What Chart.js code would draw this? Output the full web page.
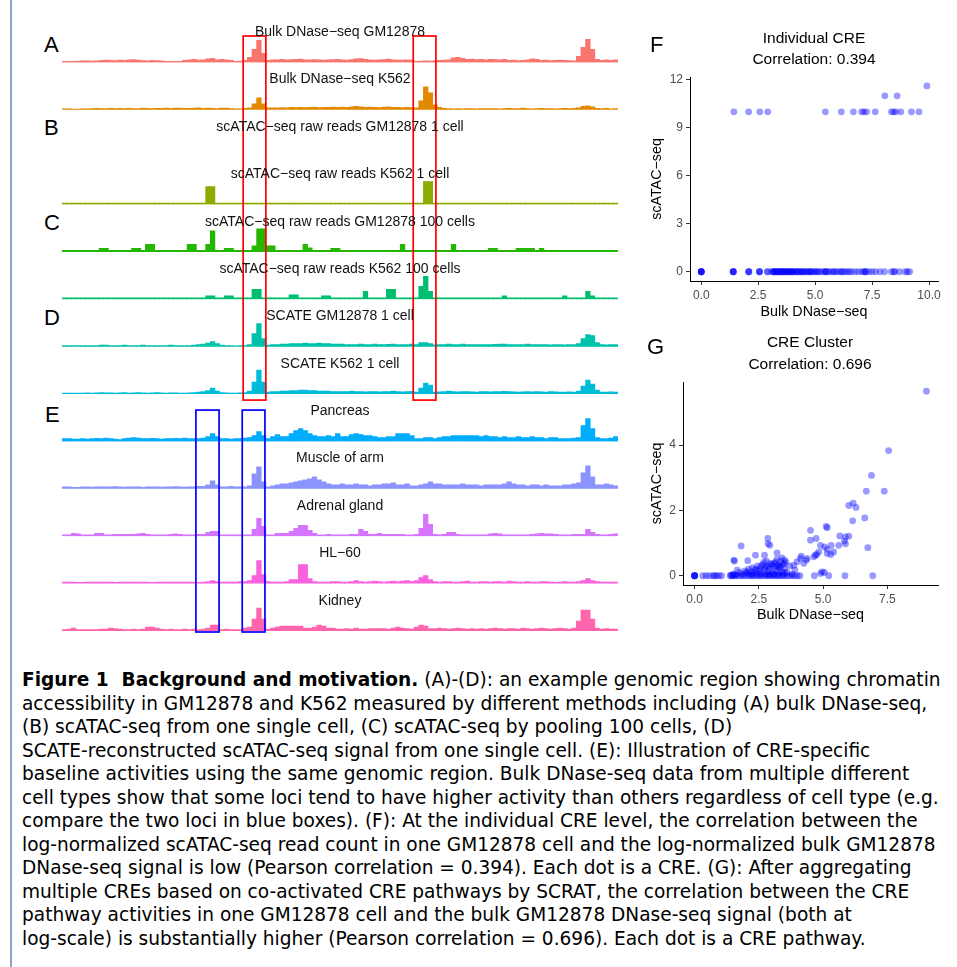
<!DOCTYPE html>
<html>
<head>
<meta charset="utf-8">
<script src="https://cdn.jsdelivr.net/npm/chart.js@4.4.0/dist/chart.umd.min.js"></script>
<style>
  html, body { margin: 0; padding: 0; background: #fff; overflow: hidden; }
  #fig { position: relative; width: 957px; height: 967px; font-family: "Liberation Sans", Arial, sans-serif; }
  #frame { position: absolute; left: 10px; top: 0; width: 1.5px; height: 967px; background: #8ea3c4; }
  canvas { position: absolute; }
  .letter { position: absolute; font-size: 22px; line-height: 1; transform: translateY(-50%); color: #000; }
  .tlabel { position: absolute; left: 62px; width: 556px; text-align: center; font-size: 14px; line-height: 1;
            transform: translateY(-50%); white-space: nowrap; color: #111; }
  .ptitle { position: absolute; width: 300px; text-align: center; font-size: 15.5px; line-height: 1;
            transform: translate(-50%, -50%); white-space: nowrap; color: #000; }
  #caption { position: absolute; left: 22px; top: 668px; font-family: "DejaVu Sans", sans-serif; font-size: 15.5px;
             line-height: 23.5px; color: #000; }
  #caption div { white-space: nowrap; }
</style>
</head>
<body>
<div id="fig">
  <div id="frame"></div>
  <canvas id="tracks" width="556" height="625" style="left:62px;top:15px"></canvas>
  <canvas id="scatterF" width="317" height="305" style="left:640px;top:20px"></canvas>
  <canvas id="scatterG" width="317" height="300" style="left:640px;top:325px"></canvas>

  <div class="letter" style="left:44px;top:45px">A</div>
  <div class="letter" style="left:44px;top:128px">B</div>
  <div class="letter" style="left:44px;top:223px">C</div>
  <div class="letter" style="left:44px;top:318px">D</div>
  <div class="letter" style="left:45px;top:415px">E</div>
  <div class="letter" style="left:650px;top:45px">F</div>
  <div class="letter" style="left:647px;top:347px">G</div>

  <div class="ptitle" style="left:814px;top:38px">Individual CRE</div>
  <div class="ptitle" style="left:814px;top:59px">Correlation: 0.394</div>
  <div class="ptitle" style="left:810px;top:342px">CRE Cluster</div>
  <div class="ptitle" style="left:810px;top:364px">Correlation: 0.696</div>

  <div id="caption">
    <div><span><b>Figure 1&nbsp; Background and motivation.</b> (A)-(D): an example genomic region showing chromatin</span></div>
    <div><span>accessibility in GM12878 and K562 measured by different methods including (A) bulk DNase-seq,</span></div>
    <div><span>(B) scATAC-seq from one single cell, (C) scATAC-seq by pooling 100 cells, (D)</span></div>
    <div><span>SCATE-reconstructed scATAC-seq signal from one single cell. (E): Illustration of CRE-specific</span></div>
    <div><span>baseline activities using the same genomic region. Bulk DNase-seq data from multiple different</span></div>
    <div><span>cell types show that some loci tend to have higher activity than others regardless of cell type (e.g.</span></div>
    <div><span>compare the two loci in blue boxes). (F): At the individual CRE level, the correlation between the</span></div>
    <div><span>log-normalized scATAC-seq read count in one GM12878 cell and the log-normalized bulk GM12878</span></div>
    <div><span>DNase-seq signal is low (Pearson correlation = 0.394). Each dot is a CRE. (G): After aggregating</span></div>
    <div><span>multiple CREs based on co-activated CRE pathways by SCRAT, the correlation between the CRE</span></div>
    <div><span>pathway activities in one GM12878 cell and the bulk GM12878 DNase-seq signal (both at</span></div>
    <div><span>log-scale) is substantially higher (Pearson correlation = 0.696). Each dot is a CRE pathway.</span></div>
  </div>
</div>

<script>
const FONT = '"Liberation Sans", Arial, sans-serif';

// signal per genomic bin (120 bins across the region), one array per track
const gm12878Bulk = [
  1, 1, 1, 1.2, 1.5, 1.5, 1.3, 1.6, 2, 2.2,
  2, 1.8, 2.4, 2, 2.5, 2.8, 2.2, 1.8, 1.5, 2,
  1.7, 1.5, 1, 1, 1, 1, 2, 2.5, 3, 2.2,
  2.5, 3.5, 4, 2.5, 3, 2.5, 2, 1, 1.2, 2,
  5, 13, 22, 9, 2, 2.5, 2.5, 3, 2.5, 2.8,
  3, 3.2, 2.5, 2.6, 2.8, 2.5, 2.4, 2.6, 2.8, 3,
  2.5, 2.4, 2.7, 3.5, 3.8, 3, 2.5, 2.4, 2.6, 2.8,
  3.2, 2.5, 2.4, 2.2, 2.5, 2.3, 1, 1.2, 1.5, 1.4,
  1.5, 2, 2.2, 2.5, 4.5, 5, 4, 3, 3.2, 2.8,
  3, 2.6, 3, 2.8, 2.6, 3, 2, 2.2, 1.8, 2,
  2.5, 3.5, 3, 2, 2.2, 1.8, 2, 2.4, 2, 1.8,
  1.6, 6, 15, 23, 13, 3, 2, 2.5, 2, 2.5
];
const k562Bulk = [
  1, 1, 0.8, 0.8, 1, 1, 1.2, 1.5, 1.2, 1.3,
  1.5, 1.2, 1.4, 1.2, 1.5, 1.3, 1.2, 1.6, 1.5, 1.2,
  1.4, 1.5, 1.8, 1.5, 1.6, 1.8, 1.5, 1.4, 1.6, 2,
  1.5, 1.8, 1.5, 1.3, 1.6, 1.8, 1.2, 1, 1, 1.5,
  2, 6, 12, 6, 2, 2, 2, 2.2, 2, 2.4,
  2.2, 2.5, 2.2, 2.4, 2.6, 2.3, 2.5, 2.4, 2.6, 2.4,
  2.8, 2.5, 3, 3.5, 3, 2.5, 2.6, 2.4, 2.2, 2.8,
  3, 2.5, 2.4, 2.2, 2.5, 2.3, 2, 9, 23, 17,
  5, 2.5, 1.5, 1.2, 1, 1.2, 1, 1.3, 1.2, 1,
  1.2, 1.1, 1.3, 1.2, 1, 1.2, 1.5, 1.2, 1.3, 1.6,
  1.2, 1, 1.2, 1.5, 1.3, 1.2, 1, 1.2, 1.5, 1.2,
  1.4, 2, 3.5, 4, 3, 1.5, 1.2, 1.5, 1, 1.2
];
const gm12878Cell = [
  0, 0, 0, 0, 0, 0, 0, 0, 0, 0,
  0, 0, 0, 0, 0, 0, 0, 0, 0, 0,
  0, 0, 0, 0, 0, 0, 0, 0, 0, 0,
  0, 0, 0, 0, 0, 0, 0, 0, 0, 0,
  0, 0, 0, 0, 0, 0, 0, 0, 0, 0,
  0, 0, 0, 0, 0, 0, 0, 0, 0, 0,
  0, 0, 0, 0, 0, 0, 0, 0, 0, 0,
  0, 0, 0, 0, 0, 0, 0, 0, 0, 0,
  0, 0, 0, 0, 0, 0, 0, 0, 0, 0,
  0, 0, 0, 0, 0, 0, 0, 0, 0, 0,
  0, 0, 0, 0, 0, 0, 0, 0, 0, 0,
  0, 0, 0, 0, 0, 0, 0, 0, 0, 0
];
const k562Cell = [
  1.5, 1.5, 1.5, 1.5, 1.5, 1.5, 1.5, 1.5, 1.5, 1.5,
  1.5, 1.5, 1.5, 1.5, 1.5, 1.5, 1.5, 1.5, 1.5, 1.5,
  1.5, 1.5, 1.5, 1.5, 1.5, 1.5, 1.5, 1.5, 1.5, 1.5,
  1.5, 18, 18, 1.5, 1.5, 1.5, 1.5, 1.5, 1.5, 1.5,
  1.5, 1.5, 1.5, 1.5, 1.5, 1.5, 1.5, 1.5, 1.5, 1.5,
  1.5, 1.5, 1.5, 1.5, 1.5, 1.5, 1.5, 1.5, 1.5, 1.5,
  1.5, 1.5, 1.5, 1.5, 1.5, 1.5, 1.5, 1.5, 1.5, 1.5,
  1.5, 1.5, 1.5, 1.5, 1.5, 1.5, 1.5, 1.5, 23, 23,
  1.5, 1.5, 1.5, 1.5, 1.5, 1.5, 1.5, 1.5, 1.5, 1.5,
  1.5, 1.5, 1.5, 1.5, 1.5, 1.5, 1.5, 1.5, 1.5, 1.5,
  1.5, 1.5, 1.5, 1.5, 1.5, 1.5, 1.5, 1.5, 1.5, 1.5,
  1.5, 1.5, 1.5, 1.5, 1.5, 1.5, 1.5, 1.5, 1.5, 1.5
];
const gm12878Pool = [
  1.5, 1.5, 1.5, 1.5, 1.5, 1.5, 1.5, 1.5, 3.5, 3.5,
  1.5, 1.5, 1.5, 1.5, 1.5, 3.5, 3.5, 1.5, 7.5, 7.5,
  1.5, 1.5, 1.5, 1.5, 1.5, 1.5, 1.5, 7.5, 7.5, 1.5,
  1.5, 7.5, 21, 1.5, 1.5, 3.5, 3.5, 1.5, 1.5, 1.5,
  1.5, 6, 23, 23, 6, 6, 1.5, 1.5, 1.5, 1.5,
  1.5, 1.5, 7.5, 4, 1.5, 1.5, 1.5, 1.5, 3.5, 3.5,
  1.5, 1.5, 1.5, 1.5, 1.5, 1.5, 1.5, 1.5, 1.5, 1.5,
  1.5, 1.5, 1.5, 7.5, 1.5, 1.5, 1.5, 1.5, 1.5, 1.5,
  1.5, 1.5, 1.5, 1.5, 7.5, 1.5, 1.5, 1.5, 1.5, 1.5,
  1.5, 1.5, 3.5, 3.5, 1.5, 1.5, 1.5, 1.5, 3.5, 3.5,
  3.5, 3.5, 1.5, 3.5, 1.5, 1.5, 1.5, 1.5, 1.5, 1.5,
  1.5, 1.5, 1.5, 1.5, 1.5, 1.5, 1.5, 1.5, 1.5, 1.5
];
const k562Pool = [
  1.5, 1.5, 1.5, 1.5, 1.5, 1.5, 1.5, 1.5, 1.5, 1.5,
  1.5, 1.5, 1.5, 1.5, 1.5, 1.5, 1.5, 1.5, 1.5, 1.5,
  1.5, 1.5, 1.5, 1.5, 1.5, 1.5, 1.5, 1.5, 1.5, 1.5,
  1.5, 3.5, 3.5, 1.5, 1.5, 3.5, 3.5, 1.5, 1.5, 1.5,
  1.5, 10, 10, 1.5, 1.5, 1.5, 1.5, 1.5, 1.5, 4.5,
  4.5, 1.5, 1.5, 1.5, 1.5, 1.5, 3.5, 3.5, 1.5, 1.5,
  1.5, 1.5, 1.5, 1.5, 1.5, 8, 1.5, 1.5, 1.5, 1.5,
  10, 10, 1.5, 1.5, 1.5, 1.5, 1.5, 13, 23, 8,
  1.5, 1.5, 1.5, 1.5, 1.5, 1.5, 1.5, 1.5, 1.5, 1.5,
  1.5, 1.5, 1.5, 1.5, 1.5, 3.5, 1.5, 1.5, 1.5, 1.5,
  1.5, 1.5, 1.5, 1.5, 1.5, 1.5, 1.5, 1.5, 3.5, 1.5,
  1.5, 1.5, 1.5, 8, 3.5, 1.5, 1.5, 1.5, 1.5, 1.5
];
const scateGm = [
  1, 1, 1, 1, 1, 1, 1, 1.2, 1.5, 1.5,
  1.2, 1.2, 1, 1.5, 1.2, 1, 1.2, 1.5, 1.2, 1,
  1.2, 1, 1.2, 1.5, 1, 1.2, 1, 1.2, 1.5, 2,
  2.5, 3.5, 5, 3, 1.5, 1.2, 1, 0.8, 1, 1.2,
  2, 13, 23, 8, 1.5, 2, 2, 2.5, 2.5, 3,
  3, 3, 3.5, 3, 3, 3.5, 3, 3, 2.5, 2.5,
  2.5, 2.2, 2, 2.2, 2.5, 2.2, 2, 2.5, 2.2, 2,
  2.3, 2.5, 2.2, 2, 2.2, 2.5, 2, 4, 4, 3,
  1.8, 2, 2.2, 2.5, 2.2, 2, 2.5, 2.2, 2, 2,
  2, 2.2, 2, 2.3, 2.5, 2.5, 2.2, 2, 2, 2.2,
  2.5, 2, 2, 2.2, 2, 1.8, 2, 2, 1.8, 2,
  2, 3, 8, 12, 11, 4, 2, 1.8, 2, 2
];
const scateK = [
  1, 1, 1, 1, 1, 1.2, 1, 1.2, 1.5, 1.2,
  1.2, 1, 1.2, 1.5, 1, 1.2, 1.5, 1.2, 1, 1.2,
  1.5, 1.2, 1, 1.2, 1.2, 1, 1, 1.2, 1.5, 2,
  2.5, 3.5, 6, 3, 1.5, 1.2, 1, 1, 1.2, 1.5,
  3, 12, 24, 12, 2, 2.5, 2.5, 3, 3, 3.5,
  3.5, 4, 4, 3.5, 3.5, 3, 3, 3, 2.5, 2.5,
  2.5, 2.5, 3, 2.5, 2.5, 2.2, 2.5, 2.5, 2.2, 2.5,
  2.5, 3, 2.5, 2.2, 2.5, 2.8, 2, 6, 11, 9,
  2, 2.2, 2.5, 3, 2.5, 2.2, 2.5, 2.5, 2.2, 2,
  2.5, 2.5, 2.2, 2.5, 2.5, 2.8, 2.5, 2.2, 2, 2.2,
  2.5, 2.2, 2.5, 2.2, 2, 2.5, 2.2, 2, 2, 2.2,
  2, 3, 8, 14, 10, 4, 2, 2, 2.2, 2
];
const pancreas = [
  3, 3, 2.5, 2.5, 3, 2.5, 3, 3.2, 3, 3.5,
  3, 2.5, 2, 3, 3.5, 4, 3.5, 3, 3, 3.2,
  3, 2.5, 3, 3, 3.2, 3, 3.5, 3, 2.8, 3,
  3.5, 5, 8, 5, 3, 3, 2.5, 3, 3, 3.5,
  4, 6, 10, 6, 3, 5, 7, 5, 5, 8,
  11, 13, 11, 8, 6, 5, 5, 6, 5, 8,
  5, 5, 7, 8, 7, 6, 6, 5, 4, 4,
  5, 5, 8, 8, 8, 6, 3, 3, 4, 4,
  3, 4, 5, 5, 6, 6, 6, 6, 6, 6,
  5, 6, 5, 5, 4, 5, 4, 4, 5, 4,
  4, 5, 4, 4, 3, 4, 4, 3, 3, 3,
  3.5, 4, 16, 23, 13, 4, 3, 3, 3.5, 5
];
const muscle = [
  2, 2, 1.5, 1.5, 2, 2, 1.8, 2, 2, 2,
  2, 2.2, 2, 1.8, 2, 2, 2, 1.5, 2, 2,
  2, 1.8, 2, 2, 2.2, 2, 1.8, 2, 2, 2.5,
  2.5, 4, 8, 4, 2, 2, 2.5, 2, 2, 2,
  3, 15, 22, 7, 2, 3, 4, 5, 5, 6,
  7, 8, 9, 10, 12, 9, 7, 5, 4, 4,
  5, 4, 4, 5, 4, 4, 3, 4, 4, 5,
  5, 6, 4, 4, 5, 3, 3, 4, 5, 7,
  5, 5, 4, 4, 4, 4, 5, 4, 4, 4,
  3, 4, 4, 4, 4, 5, 7, 5, 4, 4,
  3, 4, 4, 3, 4, 3, 3, 3, 4, 4,
  5, 6, 16, 23, 12, 4, 4, 5, 4, 3
];
const adrenal = [
  1.5, 1.5, 3, 2.5, 1.5, 1.5, 1.5, 3, 3, 1.5,
  1.5, 2, 2, 2, 2, 2, 2.5, 3, 2, 1.5,
  1.5, 1.5, 1.5, 2, 2.5, 2, 1.5, 1.5, 1.5, 2,
  2, 4, 5, 5, 1.5, 1.5, 1.5, 1.5, 1.5, 1.5,
  1.5, 7, 18, 10, 1.5, 1.5, 3, 3, 3, 5,
  8, 11, 11, 6, 3, 1.5, 1.5, 2, 1.5, 1.5,
  1.5, 1.5, 2, 2, 7, 5, 2, 2, 3, 2,
  2, 2, 2, 2, 1.5, 1.5, 2, 8, 22, 12,
  2, 1.5, 2, 4, 4, 2, 1.5, 1.5, 1.5, 1.5,
  1.5, 1.5, 2.5, 3, 2.5, 1.5, 1.5, 1.5, 1.5, 1.5,
  1.5, 2, 2.5, 3, 2.5, 2.5, 2, 1.5, 1.5, 1.5,
  2, 2, 2, 7, 4, 2, 1.5, 1.5, 2, 2.5
];
const hl60 = [
  1.5, 1.5, 1.5, 1.2, 1.2, 1.5, 1.5, 1.5, 1.5, 1.5,
  1.5, 1.2, 1.5, 1.5, 1.5, 1.5, 1.5, 1.5, 1.5, 1.2,
  1.5, 1.5, 1.5, 1.5, 1.5, 1.5, 1.5, 1.5, 1.5, 1.2,
  1.5, 2, 3, 2, 1.5, 1.5, 1.5, 1.5, 2, 2,
  3, 8, 23, 9, 2, 1.5, 1.5, 1.5, 2, 4,
  4, 19, 19, 5, 2, 1.5, 1.5, 1.5, 2, 2,
  1.5, 1.5, 2, 3, 2, 1.5, 2, 2.5, 2, 1.5,
  2, 2.5, 2, 2.5, 3, 2, 3, 6, 8, 4,
  2, 1.5, 2, 2, 1.5, 1.5, 2, 2.5, 1.5, 1.5,
  2, 2, 1.5, 2, 2, 1.5, 2.5, 2, 1.5, 1.5,
  2, 1.5, 1.5, 2, 2, 1.5, 1.2, 1.5, 2, 1.5,
  1.5, 2, 3, 5, 3, 2, 1.5, 1.5, 1.5, 1.5
];
const kidney = [
  1.5, 2, 3, 1.5, 1.5, 1.5, 1.5, 1.5, 2, 2,
  3, 2.5, 2, 1.5, 1.5, 2, 1.5, 2, 4, 4,
  3, 2, 1.5, 2, 1.5, 1.5, 2, 1.5, 2, 1.5,
  2, 3, 6, 6, 1.5, 2, 1.5, 1.5, 1.5, 3,
  4, 12, 23, 12, 2, 3, 4, 5, 5, 5,
  5, 5, 3, 3, 4, 6, 5, 3, 3, 2,
  2, 2.5, 2, 3, 2, 2, 2.5, 2.5, 2.5, 2.5,
  2, 3, 4, 3, 2.5, 2, 4, 6, 5, 2.5,
  2.5, 3, 2.5, 2, 2.5, 3, 2.5, 2, 2.5, 2,
  2.5, 2, 2.5, 3, 2.5, 2, 2.5, 2.5, 2, 3,
  2.5, 2, 2.5, 3, 2.5, 2, 2.5, 3, 2.5, 2,
  3, 10, 21, 21, 12, 3, 2, 2.5, 2, 2
];

const trackNames = [
  'Bulk DNase\u2212seq GM12878', 'Bulk DNase\u2212seq K562',
  'scATAC\u2212seq raw reads GM12878 1 cell', 'scATAC\u2212seq raw reads K562 1 cell',
  'scATAC\u2212seq raw reads GM12878 100 cells', 'scATAC\u2212seq raw reads K562 100 cells',
  'SCATE GM12878 1 cell', 'SCATE K562 1 cell',
  'Pancreas', 'Muscle of arm', 'Adrenal gland', 'HL\u221260', 'Kidney'
];
const trackValues = [gm12878Bulk, k562Bulk, gm12878Cell, k562Cell, gm12878Pool, k562Pool,
  scateGm, scateK, pancreas, muscle, adrenal, hl60, kidney];
const trackColors = ['#F8766D', '#E18A00', '#BE9C00', '#8CAB00', '#24B700', '#00BE70', '#00C1AB',
  '#00BBDA', '#00ACFC', '#8B93FF', '#D575FE', '#F962DD', '#FF65AC'];
const TRACK_MAX = 47.4;

// highlighted loci, in bin units, and the tracks they span
const redLoci = [[38.6, 43.5], [75.3, 80.2]];
const blueLoci = [[28.4, 33.4], [38.4, 43.3]];

// panel F: each CRE as [bulk DNase-seq, scATAC-seq]
const fPoints = [
  [0, 0], [0, 0], [0, 0], [0, 0], [0, 0],
  [1.4, 0], [1.4, 0], [1.4, 0], [1.42, 0],
  [2.08, 0], [2.08, 0], [2.1, 0], [2.55, 0], [2.57, 0], [2.55, 0], [2.9, 0], [2.92, 0],
  [3.1, 0], [3.15, 0], [3.2, 0], [3.25, 0], [3.3, 0], [3.35, 0], [3.4, 0], [3.45, 0], [3.5, 0],
  [3.55, 0], [3.6, 0], [3.65, 0], [3.7, 0], [3.75, 0], [3.8, 0], [3.85, 0], [3.9, 0], [3.95, 0],
  [4.0, 0], [4.05, 0], [4.1, 0], [4.2, 0], [4.25, 0], [4.3, 0], [4.4, 0], [4.45, 0], [4.5, 0],
  [4.6, 0], [4.7, 0], [4.75, 0], [4.8, 0], [4.9, 0], [5.0, 0], [5.1, 0], [5.15, 0], [5.25, 0],
  [5.35, 0], [5.45, 0], [5.47, 0], [5.5, 0], [5.6, 0], [5.7, 0], [5.8, 0], [5.85, 0], [5.95, 0],
  [6.05, 0], [6.15, 0], [6.2, 0], [6.3, 0], [6.4, 0], [6.5, 0], [6.6, 0], [6.75, 0], [6.9, 0],
  [7.05, 0], [7.15, 0], [7.2, 0], [7.22, 0], [7.35, 0], [7.5, 0], [7.65, 0], [7.85, 0], [8.05, 0],
  [8.35, 0], [8.45, 0], [8.5, 0], [8.7, 0], [8.95, 0], [9.05, 0], [9.15, 0],
  [3.2, 0], [3.3, 0], [3.5, 0], [3.6, 0], [3.8, 0], [4.0, 0], [4.2, 0], [4.4, 0], [4.6, 0], [4.8, 0], [5.0, 0],
  [1.43, 10], [2.08, 10], [2.57, 10], [2.92, 10], [5.45, 10], [6.15, 10], [6.68, 10], [7.04, 10],
  [7.14, 10], [7.26, 10], [7.64, 10], [8.35, 10], [8.45, 10], [8.54, 10], [8.76, 10], [9.23, 10], [9.56, 10],
  [8.06, 11], [8.6, 11],
  [9.91, 11.62]
];
const fXTicks = [0, 2.5, 5, 7.5, 10];
const fYTicks = [0, 3, 6, 9, 12];

// panel G: each CRE pathway as [bulk DNase-seq, scATAC-seq]
const gPoints = [
  [0, 0], [0, 0], [0, 0], [0, 0], [0, 0],
  [0.32, 0], [0.45, 0], [0.58, 0], [0.72, 0], [0.78, 0], [0.85, 0], [0.95, 0], [1.05, 0],
  [1.38, 0], [1.45, 0], [1.5, 0], [1.6, 0], [1.7, 0], [1.8, 0], [1.9, 0], [2.0, 0], [2.1, 0],
  [2.2, 0], [2.3, 0], [2.4, 0], [2.5, 0], [2.6, 0], [2.7, 0], [2.8, 0], [2.9, 0], [3.0, 0],
  [3.1, 0], [3.2, 0], [3.3, 0], [3.4, 0], [3.5, 0], [3.6, 0], [3.7, 0], [3.8, 0], [3.9, 0],
  [4.0, 0], [4.1, 0], [4.66, 0], [5.22, 0], [5.85, 0], [6.93, 0],
  [1.42, 0.02], [1.55, 0.03], [2.25, 0.02], [2.55, 0.03], [2.85, 0.02], [3.05, 0.03], [3.25, 0.02], [3.45, 0.03],
  [1.5, 0.05], [1.6, 0.02], [1.75, 0.1], [1.85, 0.05], [1.95, 0.15], [2.0, 0.08], [2.1, 0.2], [2.15, 0.05],
  [2.2, 0.12], [2.25, 0.25], [2.3, 0.1], [2.35, 0.18], [2.4, 0.05], [2.45, 0.3], [2.5, 0.15], [2.55, 0.22],
  [2.6, 0.08], [2.65, 0.35], [2.7, 0.18], [2.75, 0.05], [2.8, 0.28], [2.85, 0.12], [2.9, 0.22], [2.95, 0.38],
  [3.0, 0.1], [3.05, 0.3], [3.1, 0.2], [3.15, 0.42], [3.2, 0.15], [3.25, 0.33], [3.3, 0.25], [3.35, 0.45],
  [3.4, 0.12], [3.45, 0.35], [3.5, 0.22], [3.55, 0.42], [3.6, 0.1], [3.7, 0.3], [3.8, 0.05], [3.9, 0.18],
  [2.6, 0.3], [2.9, 0.05], [3.1, 0.05], [3.3, 0.08], [2.4, 0.2], [2.7, 0.42], [3.0, 0.35], [3.2, 0.5],
  [2.8, 0.45], [3.4, 0.55], [3.3, 0.3], [3.5, 0.1], [3.2, 0.28], [2.9, 0.3], [3.1, 0.38], [2.75, 0.25],
  [1.66, 0.17], [2.05, 0.12], [1.53, 0.48], [1.55, 0.45], [1.81, 0.91], [2.07, 0.46], [2.37, 0.63],
  [2.72, 0.63], [2.85, 1.14], [2.86, 0.98], [2.93, 0.93], [3.21, 0.7], [3.34, 0.27], [3.47, 0.38],
  [3.5, 0.48], [3.86, 0.32], [3.99, 0.43], [4.12, 0.53], [4.15, 0.6], [4.25, 0.38], [4.35, 0.48],
  [4.38, 0.53], [4.51, 1.39], [4.51, 1.09], [4.73, 1.14], [4.64, 0.58], [4.7, 0.63], [4.75, 0.65],
  [4.83, 0.73], [4.9, 0.93], [4.9, 0.07], [4.96, 0.12], [5.05, 0.1], [5.06, 0.88], [5.16, 0.81],
  [5.31, 0.93], [5.16, 0.68], [5.3, 0.65], [5.41, 0.73], [5.12, 1.51], [5.16, 1.47], [5.61, 0.93],
  [5.65, 1.22], [5.83, 1.06], [5.87, 0.98], [5.87, 1.19], [6.0, 1.21], [6.15, 1.68], [6.0, 2.15],
  [6.17, 2.22], [6.28, 2.09], [6.62, 1.77], [6.68, 2.59], [6.74, 0.86], [6.88, 3.07], [7.38, 2.59],
  [7.55, 3.83], [9.02, 5.65]
];
const gXTicks = [0, 2.5, 5, 7.5];
const gYTicks = [0, 2, 4];

const bins = gm12878Bulk.map((_, i) => i);

// draws the red / blue locus boxes across a range of tracks
const lociBoxes = {
  id: 'lociBoxes',
  afterDatasetsDraw(chart) {
    const { ctx, scales } = chart;
    const groups = [
      { loci: redLoci, color: '#FF0000', from: 0, to: 7, padTop: 21, padBottom: 6 },
      { loci: blueLoci, color: '#0000FF', from: 8, to: 12, padTop: 16, padBottom: 1 }
    ];
    ctx.save();
    ctx.lineWidth = 1.7;
    groups.forEach(g => {
      const top = scales['y' + g.from].top + g.padTop;
      const bottom = scales['y' + g.to].bottom + g.padBottom;
      ctx.strokeStyle = g.color;
      g.loci.forEach(([a, b]) => {
        const x0 = scales.x.getPixelForValue(a);
        const x1 = scales.x.getPixelForValue(b);
        ctx.strokeRect(x0, top, x1 - x0, bottom - top);
      });
    });
    ctx.restore();
  }
};

function buildTracks() {
  const scales = { x: { type: 'category', display: false, offset: true } };
  trackValues.forEach((_, i) => {
    scales['y' + i] = {
      type: 'linear', display: false, stack: 'tracks', stackWeight: 1,
      weight: trackValues.length - i, min: 0, max: TRACK_MAX
    };
  });
  const chart = new Chart(document.getElementById('tracks'), {
    type: 'bar',
    data: {
      labels: bins,
      datasets: trackValues.map((vals, i) => ({
        data: vals,
        yAxisID: 'y' + i,
        // empty bins draw nothing (the 1-cell GM12878 track has no reads)
        backgroundColor: c => (c.raw ? trackColors[i] : 'rgba(0,0,0,0)'),
        borderWidth: 0,
        barPercentage: 1,
        categoryPercentage: 1,
        grouped: false
      }))
    },
    options: {
      responsive: false,
      animation: false,
      layout: { padding: { left: 0, right: 0, top: 0, bottom: 9 } },
      plugins: { legend: { display: false }, tooltip: { enabled: false } },
      scales
    },
    plugins: [lociBoxes]
  });

  const fig = document.getElementById('fig');
  const canvasTop = 15;
  trackNames.forEach((name, i) => {
    const d = document.createElement('div');
    d.className = 'tlabel';
    d.textContent = name;
    d.style.top = (canvasTop + chart.scales['y' + i].top + 16) + 'px';
    fig.appendChild(d);
  });
}

function scatterAxis(min, max, ticks, fmt, title, side) {
  return {
    type: 'linear', min, max,
    afterBuildTicks: s => { s.ticks = ticks.map(v => ({ value: v })); },
    afterFit: s => { if (side.width) s.width = side.width; if (side.height) s.height = side.height; },
    ticks: { callback: fmt, color: '#4D4D4D', font: { family: FONT, size: 12 }, padding: side.pad,
             maxRotation: 0, autoSkip: false },
    grid: { drawOnChartArea: false, drawTicks: true, tickLength: 4, tickColor: '#333333', tickWidth: 1 },
    border: { display: true, color: '#000000', width: 1 },
    title: { display: true, text: title, color: '#000', font: { family: FONT, size: 14.3 },
             padding: side.titlePad }
  };
}

function buildScatter(id, points, xr, yr, xTicks, yTicks, pad, yWidth, xHeight, xTitleBottom) {
  new Chart(document.getElementById(id), {
    type: 'scatter',
    data: {
      datasets: [{
        data: points.map(([x, y]) => ({ x, y })),
        backgroundColor: 'rgba(0, 0, 255, 0.4)',
        borderWidth: 0,
        pointRadius: 3.4,
        pointHoverRadius: 3.4
      }]
    },
    options: {
      responsive: false,
      animation: false,
      layout: { padding: pad },
      plugins: { legend: { display: false }, tooltip: { enabled: false } },
      scales: {
        x: scatterAxis(xr[0], xr[1], xTicks, v => v.toFixed(1), 'Bulk DNase\u2212seq',
          { height: xHeight, pad: 3, titlePad: { top: 0, bottom: xTitleBottom } }),
        y: scatterAxis(yr[0], yr[1], yTicks, v => String(v), 'scATAC\u2212seq',
          { width: yWidth, pad: 3, titlePad: { top: 8, bottom: 0 } })
      }
    }
  });
}

// scale the caption so its first line spans the same width as in the figure
function fitCaption() {
  const cap = document.getElementById('caption');
  const first = cap.querySelector('span');
  const w = first.getBoundingClientRect().width;
  cap.style.fontSize = (15.5 * 919 / w).toFixed(2) + 'px';
}

buildTracks();
buildScatter('scatterF', fPoints, [-0.495, 10.395], [-0.58, 12.18], fXTicks, fYTicks,
  { top: 57, right: 19, left: 0, bottom: 0 }, 50, 44, 4);
buildScatter('scatterG', gPoints, [-0.45, 9.47], [-0.283, 5.93], gXTicks, gYTicks,
  { top: 57, right: 19, left: 0, bottom: 0 }, 43, 40, 1.5);
fitCaption();
</script>
</body>
</html>
